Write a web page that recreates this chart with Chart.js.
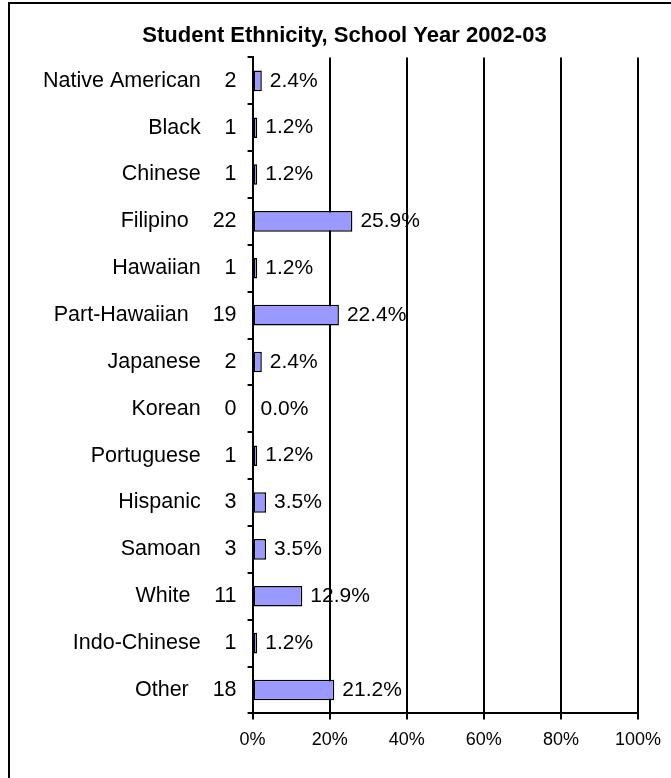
<!DOCTYPE html>
<html lang="en">
<head>
  <meta charset="UTF-8" />
  <title>Student Ethnicity, School Year 2002-03</title>
  <script src="https://cdn.jsdelivr.net/npm/chart.js"></script>
  <style>
    html, body {
      margin: 0;
      background: #fff;
      overflow: hidden;
    }
    .wrap {
      position: relative;
      width: 671px;
      height: 778px;
    }
    .frame {
      position: absolute;
      left: 8px;
      top: 2px;
      width: 700px;
      height: 800px;
      border: 2px solid #000;
      pointer-events: none;
    }
    canvas {
      position: absolute;
      left: 0;
      top: 0;
    }
  </style>
</head>
<body>

<div class="wrap">
  <canvas id="ethnicityChart" width="671" height="778"></canvas>
  <div class="frame"></div>
</div>

<script>
  const groups = ['Native American', 'Black', 'Chinese', 'Filipino', 'Hawaiian', 'Part-Hawaiian',
    'Japanese', 'Korean', 'Portuguese', 'Hispanic', 'Samoan', 'White', 'Indo-Chinese', 'Other'];
  const counts = [2, 1, 1, 22, 1, 19, 2, 0, 1, 3, 3, 11, 1, 18];
  const percents = [2.4, 1.2, 1.2, 25.9, 1.2, 22.4, 2.4, 0.0, 1.2, 3.5, 3.5, 12.9, 1.2, 21.2];
  const xTicks = [0, 20, 40, 60, 80, 100];

  // "Name   count" labels on the category axis
  const rowLabels = groups.map((g, i) => g + '    ' + counts[i]);

  // percentage text to the right of each bar
  const barValues = {
    id: 'barValues',
    afterDatasetsDraw(chart) {
      const ctx = chart.ctx;
      const meta = chart.getDatasetMeta(0);
      ctx.save();
      ctx.font = '21px "Liberation Sans", Arial, sans-serif';
      ctx.fillStyle = '#000';
      ctx.textAlign = 'left';
      ctx.textBaseline = 'middle';
      meta.data.forEach((bar, i) => {
        ctx.fillText(percents[i].toFixed(1) + '%', bar.x + 8, bar.y);
      });
      ctx.restore();
    }
  };

  new Chart(document.getElementById('ethnicityChart'), {
    type: 'bar',
    data: {
      labels: rowLabels,
      datasets: [{
        data: percents,
        backgroundColor: '#9999ff',
        borderColor: '#000',
        borderWidth: 1.5,
        borderSkipped: false,
        barPercentage: 0.44,
        categoryPercentage: 1
      }]
    },
    options: {
      indexAxis: 'y',
      responsive: false,
      animation: false,
      layout: {
        padding: { left: 32, right: 14, top: 0, bottom: 17 }
      },
      plugins: {
        legend: { display: false },
        tooltip: { enabled: false },
        title: {
          display: true,
          text: 'Student Ethnicity, School Year 2002-03',
          color: '#000',
          font: { family: '"Liberation Sans", Arial, sans-serif', size: 22, weight: 'bold' },
          padding: { top: 23, bottom: 8 }
        }
      },
      scales: {
        x: {
          min: 0,
          max: 100,
          afterBuildTicks(axis) {
            axis.ticks = xTicks.map(v => ({ value: v }));
          },
          ticks: {
            color: '#000',
            font: { family: '"Liberation Sans", Arial, sans-serif', size: 18 },
            padding: 10,
            maxRotation: 0,
            callback: v => v + '%'
          },
          grid: {
            color: '#000',
            lineWidth: 2,
            tickLength: 6
          },
          border: { display: true, color: '#000', width: 2 }
        },
        y: {
          ticks: {
            color: '#000',
            font: { family: '"Liberation Sans", Arial, sans-serif', size: 21.5 },
            padding: 11
          },
          grid: {
            offset: true,
            drawOnChartArea: false,
            color: '#000',
            lineWidth: 2,
            tickLength: 5
          },
          border: { display: true, color: '#000', width: 2 }
        }
      }
    },
    plugins: [barValues]
  });
</script>

</body>
</html>
